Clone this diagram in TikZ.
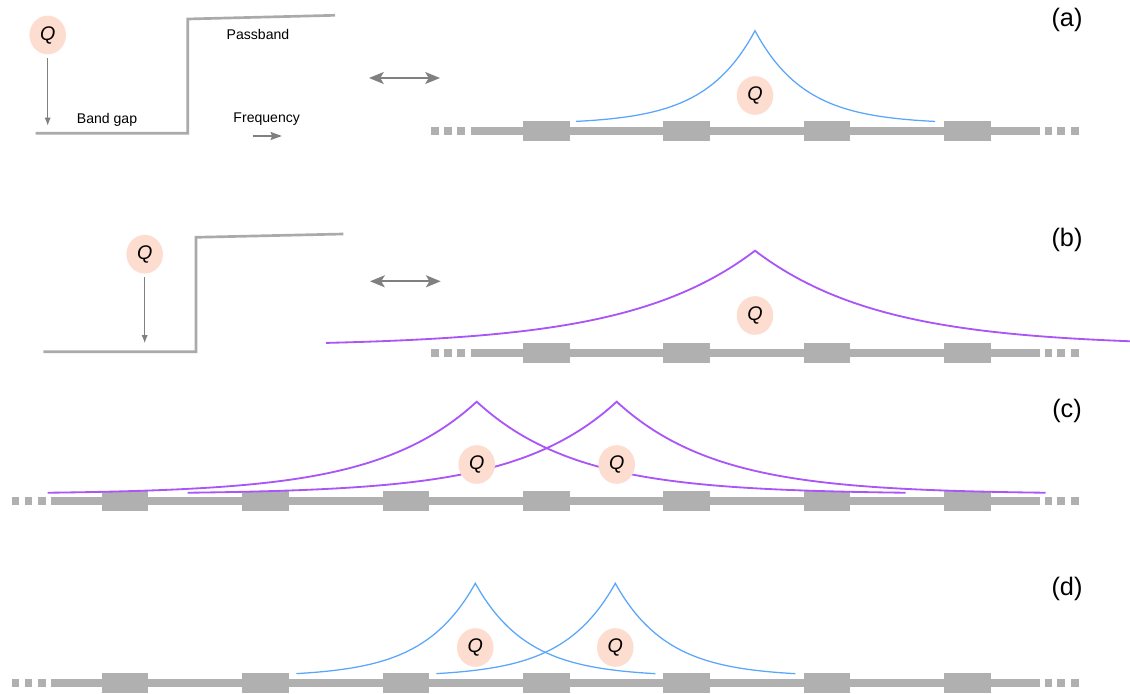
\documentclass[tikz,border=0pt]{standalone}
\usepackage{fontspec}
\setmainfont{Liberation Sans}
\usetikzlibrary{arrows.meta,shapes.geometric}
\definecolor{qpink}{RGB}{253,221,207}
\definecolor{wgray}{RGB}{176,176,176}
\definecolor{bgray}{RGB}{170,170,170}
\definecolor{agray}{RGB}{128,128,128}
\definecolor{lblue}{RGB}{90,166,250}
\definecolor{lpurple}{RGB}{170,85,247}

\begin{document}
\begin{tikzpicture}[x = 0.025cm, y = -0.025cm,
    qubit/.style = {ellipse, fill = qpink, minimum width = 26pt, minimum height = 27.5pt, inner sep = 0pt, font = \fontsize{14}{16}\selectfont\itshape},
    txt/.style = {font = \fontsize{10}{12}\selectfont},
    panel/.style = {font = \fontsize{18}{21}\selectfont},
    band/.style = {draw = bgray, line width = 1.9pt},
    guide/.style = {draw = wgray, line width = 5.2pt},
    downarrow/.style = {draw = agray, line width = 1.1pt, shorten <= 2.5pt, -{Latex[length = 6pt, width = 4.5pt]}},
    freqarrow/.style = {draw = agray, line width = 1.6pt, -{Stealth[length = 8pt, width = 5.5pt, inset = 1pt]}},
    swaparrow/.style = {draw = agray, line width = 1.4pt, {Stealth[length = 10.5pt, width = 8.5pt, inset = 2.5pt]}-{Stealth[length = 10.5pt, width = 8.5pt, inset = 2.5pt]}},
    bluewave/.style = {draw = lblue, line width = 0.9pt},
    purplewave/.style = {draw = lpurple, line width = 1.3pt}]
			\useasboundingbox (0,0) rectangle (1130,694);

			% waveguides
			\foreach \wy/\kk/\ls in {131/3/470.5, 353/3/470.5, 501/0/51, 683/0/51} {
				\draw[guide] (\ls,\wy) -- (1040,\wy);
				\foreach \dx in {39.5,26.5,13.3} \fill[wgray] (\ls-\dx,\wy-3.7) rectangle +(7.8,7.4);
				\foreach \dx in {4.5,17,31} \fill[wgray] (1040+\dx,\wy-3.7) rectangle +(7.8,7.4);
				\foreach \k in {\kk,...,6} \fill[wgray] ({125+140.4*\k-23.3},\wy-10) rectangle +(46.6,20);
			}

			% (a)
			\draw[band] (35.7,133.3) -- (187.7,133.3) -- (187.7,19) -- (335,15.3);
			\node (qa) at (47.7,35) [qubit] {Q};
			\coordinate (qaend) at (47.7,126);
			\draw[downarrow] (qa) -- (qaend);
			\node (passband) at (258,34.3) [txt] {Passband};
			\node (bandgap) at (107,120) [txt] {Band gap};
			\node (freq) at (266.7,119.3) [txt] {Frequency};
			\coordinate (fa) at (252.7,136);
			\coordinate (fb) at (282,136);
			\draw[freqarrow] (fa) -- (fb);
			\coordinate (sa1) at (369,78);
			\coordinate (sa2) at (440,78);
			\draw[swaparrow] (sa1) -- (sa2);
			\draw[bluewave] plot[domain = -179:180, samples = 360] ({755+\x},{124-93.3*exp(-abs(\x)/50)});
			\node (qaw) at (755,95.5) [qubit] {Q};
			\node (la) at (1067,20) [panel] {(a)};

			% (b)
			\draw[band] (43.3,351.7) -- (196,351.7) -- (196,237.3) -- (343.3,234);
			\node (qb) at (144.7,254.2) [qubit] {Q};
			\coordinate (qbend) at (144.7,343.5);
			\draw[downarrow] (qb) -- (qbend);
			\coordinate (sb1) at (370,281.3);
			\coordinate (sb2) at (440.7,281.3);
			\draw[swaparrow] (sb1) -- (sb2);
			\draw[purplewave] plot[domain = -429:375, samples = 805] ({755+\x},{346-95.3*exp(-abs(\x)/125)});
			\node (qbw) at (755,315.5) [qubit] {Q};
			\node (lb) at (1067,240) [panel] {(b)};

			% (c)
			\foreach \px in {476.7,616.7}
				\draw[purplewave] plot[domain = -429:429, samples = 859] ({\px+\x},{494-92.3*exp(-abs(\x)/100)});
			\node (qc1) at (476.7,464.5) [qubit] {Q};
			\node (qc2) at (616.7,464.5) [qubit] {Q};
			\node (lc) at (1067,411) [panel] {(c)};

			% (d)
			\foreach \px in {475.3,615.3}
				\draw[bluewave] plot[domain = -179:180, samples = 360] ({\px+\x},{676.6-93.3*exp(-abs(\x)/52)});
			\node (qd1) at (475.3,647.5) [qubit] {Q};
			\node (qd2) at (615.3,647.5) [qubit] {Q};
			\node (ld) at (1067,589) [panel] {(d)};
\end{tikzpicture}
\end{document}
